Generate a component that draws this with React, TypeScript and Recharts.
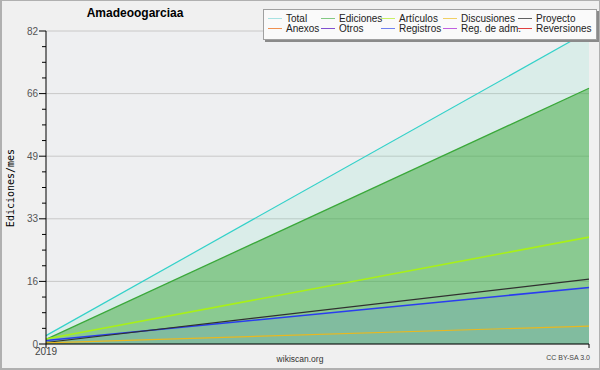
import { ComposedChart, Area, Line, XAxis, YAxis, CartesianGrid } from 'recharts'

const months = ['2019', '']
const total = [2.2, 82]
const ediciones = [1.2, 67]
const articulos = [1.3, 28]
const discusiones = [0.3, 4.7]
const proyecto = [0.4, 17]
const registros = [0.9, 14.8]

const majorTicks = [0, 16.4, 32.8, 49.2, 65.6, 82]
const majorLabels = ['0', '16', '33', '49', '66', '82']

const legendItems = [
  ['Total', '#a8e2e2'],
  ['Ediciones', '#82c882'],
  ['Artículos', '#c8f064'],
  ['Discusiones', '#f0d064'],
  ['Proyecto', '#606060'],
  ['Anexos', '#f09050'],
  ['Otros', '#8050d0'],
  ['Registros', '#7080f0'],
  ['Reg. de adm.', '#c060e0'],
  ['Reversiones', '#e04040'],
]

const data = months.map((m, i) => ({
  month: m,
  total: total[i],
  ediciones: ediciones[i],
  articulos: articulos[i],
  discusiones: discusiones[i],
  proyecto: proyecto[i],
  registros: registros[i],
}))

// 3 minor ticks between each labelled tick
const allTicks: number[] = []
majorTicks.forEach((t, i) => {
  allTicks.push(t)
  if (i < majorTicks.length - 1) {
    const step = (majorTicks[i + 1] - t) / 4
    for (let k = 1; k < 4; k++) allTicks.push(t + step * k)
  }
})

const font = '"Liberation Sans", Arial, sans-serif'

function YTick(props: any) {
  const { x, y, payload } = props
  const idx = majorTicks.findIndex((t) => Math.abs(t - payload.value) < 1e-6)
  const axisX = x + 8
  return (
    <g>
      <line x1={axisX - (idx >= 0 ? 7 : 4)} x2={axisX} y1={y} y2={y} stroke="#000" />
      {idx >= 0 && (
        <text x={x} y={y} dy="0.35em" textAnchor="end" fontSize={10} fill="#555" fontFamily={font}>
          {majorLabels[idx]}
        </text>
      )}
    </g>
  )
}

export default function App() {
  return (
    <div style={{ position: 'relative', width: 600, height: 370, background: '#f0f0f0', fontFamily: font }}>
      <style>{'body{margin:0}'}</style>
      <ComposedChart width={600} height={370} data={data} margin={{ top: 31, right: 11, left: 0, bottom: 22 }}>
        <CartesianGrid vertical={false} horizontalValues={majorTicks} stroke="#c8c8c8" fill="#eeeff1" />
        <XAxis
          dataKey="month"
          height={4}
          interval={0}
          tick={{ fontSize: 10, fill: '#444', fontFamily: font }}
          tickSize={4}
          tickMargin={0}
          axisLine={{ stroke: '#000' }}
          tickLine={{ stroke: '#000' }}
        />
        <YAxis
          width={46}
          domain={[0, 82]}
          ticks={allTicks}
          interval={0}
          tickSize={7}
          tickMargin={1}
          tickLine={false}
          tick={<YTick />}
          axisLine={{ stroke: '#000' }}
        />
        <Area dataKey="total" type="linear" stroke="#33d1c9" strokeWidth={1.2} fill="#60e0b8" fillOpacity={0.14} isAnimationActive={false} />
        <Area dataKey="ediciones" type="linear" stroke="#3aa83a" strokeWidth={1.3} fill="#3aa83a" fillOpacity={0.5} isAnimationActive={false} />
        <Line dataKey="articulos" type="linear" stroke="#a8f018" strokeWidth={1.6} dot={false} isAnimationActive={false} />
        <Line dataKey="proyecto" type="linear" stroke="#303030" strokeWidth={1.2} dot={false} isAnimationActive={false} />
        <Area dataKey="registros" type="linear" stroke="#2a3cf0" strokeWidth={1.6} fill="#506ef0" fillOpacity={0.15} isAnimationActive={false} />
        <Line dataKey="discusiones" type="linear" stroke="#e8b820" strokeWidth={1.2} dot={false} isAnimationActive={false} />
      </ComposedChart>

      <div style={{ position: 'absolute', left: 35, width: 200, top: 6, textAlign: 'center', fontSize: 12, fontWeight: 'bold', color: '#000' }}>
        Amadeoogarciaa
      </div>

      <div
        style={{
          position: 'absolute',
          left: 3,
          top: 188,
          transform: 'translate(0, -50%) rotate(-90deg)',
          transformOrigin: 'center',
          width: 100,
          marginLeft: -43,
          textAlign: 'center',
          fontFamily: '"DejaVu Sans Mono", monospace',
          fontSize: 10,
          color: '#000',
        }}
      >
        Ediciones/mes
      </div>

      <div
        style={{
          position: 'absolute',
          left: 263,
          top: 9,
          width: 334,
          height: 31,
          boxSizing: 'border-box',
          background: '#fafafa',
          border: '1px solid #a0a0a0',
          boxShadow: '2px 2px 0 #8a8a8a',
        }}
      >
        {legendItems.map(([name, color], i) => {
          const col = i % 5
          const row = Math.floor(i / 5)
          const lefts = [4, 57, 117, 179, 254]
          return (
            <div key={name} style={{ position: 'absolute', left: lefts[col], top: 3 + row * 10, height: 10, display: 'flex', alignItems: 'center', fontSize: 10, color: '#222', whiteSpace: 'nowrap' }}>
              <span style={{ display: 'inline-block', width: 14, height: 1, background: color, marginRight: 4 }} />
              {name}
            </div>
          )
        })}
      </div>

      <div style={{ position: 'absolute', left: 250, width: 100, top: 354, textAlign: 'center', fontSize: 8.5, color: '#333' }}>wikiscan.org</div>
      <div style={{ position: 'absolute', right: 10, top: 354, fontSize: 7, color: '#444' }}>CC BY-SA 3.0</div>

      <div style={{ position: 'absolute', inset: 0, border: '2px solid #b0b0b0', borderRightWidth: 1, borderTopWidth: 1, pointerEvents: 'none' }} />
    </div>
  )
}
